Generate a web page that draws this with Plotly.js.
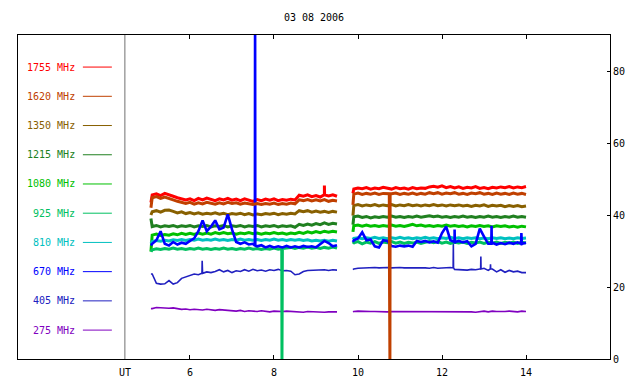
<!DOCTYPE html>
<html><head><meta charset="utf-8">
<script src="https://cdn.plot.ly/plotly-3.0.1.min.js"></script>
<style>html,body{margin:0;padding:0;background:#fff}#chart{width:640px;height:384px}</style>
</head><body><div id="chart"></div>
<script>
const chartTitle = "03 08 2006";
const freqLabels = ["1755 MHz","1620 MHz","1350 MHz","1215 MHz","1080 MHz","925 MHz","810 MHz","670 MHz","405 MHz","275 MHz"];
const freqColors = ["#ff0000","#c04000","#886000","#208020","#00c000","#00c060","#00c0c0","#0000ff","#2020c0","#8000c0"];
const xTickVals = [6,8,10,12,14];
const yTickVals = [0,20,40,60,80];
const utMarker = 4.45;

const timesLeft = [5.1,5.2,5.3,5.4,5.5,5.6,5.7,5.8,5.9,6.0,6.1,6.2,6.3,6.4,6.5,6.6,6.7,6.8,6.9,7.0,7.1,7.2,7.3,7.4,7.5,7.6,7.7,7.8,7.9,8.0,8.1,8.2,8.3,8.4,8.5,8.6,8.7,8.8,8.9,9.0,9.1,9.2,9.3,9.4,9.5];
const timesRight = [9.9,10.0,10.1,10.2,10.3,10.4,10.5,10.6,10.7,10.8,10.9,11.0,11.1,11.2,11.3,11.4,11.5,11.6,11.7,11.8,11.9,12.0,12.1,12.2,12.3,12.4,12.5,12.6,12.7,12.8,12.9,13.0,13.1,13.2,13.3,13.4,13.5,13.6,13.7,13.8,13.9,14.0];

// first samples of each segment (reading at 5.07 and 9.88 UT)
const startTimes = [5.07, 9.88];

const v1755L = [45.6,45.9,45.4,46.0,45.5,45.2,44.8,44.6,44.2,44.5,44.0,44.6,44.2,44.7,44.3,44.0,44.5,44.2,44.6,44.1,44.4,44.0,44.5,44.2,43.8,44.3,44.0,44.4,44.1,44.5,44.0,44.3,44.1,44.4,44.2,45.5,45.2,45.6,45.1,45.4,45.0,46.0,45.3,45.6,45.2];
const v1755R = [47.2,47.5,47.3,47.6,47.2,47.5,47.3,47.7,47.4,47.2,47.6,47.3,47.5,47.2,47.6,47.3,47.5,47.4,47.8,48.0,47.7,48.1,47.6,47.9,47.5,47.8,47.4,47.7,47.5,47.9,47.4,47.6,47.3,47.7,47.5,47.8,47.6,47.9,47.5,47.8,47.6,47.9];
const v1755S = [43.5, 46.0];
const s1755T = [9.195,9.2,9.205], s1755V = [45.6,48.2,45.6];

const v1620L = [44.8,45.1,44.6,45.0,44.5,44.2,43.8,43.5,43.2,43.5,43.0,43.4,43.1,43.5,43.2,43.0,43.4,43.1,43.5,43.2,43.4,43.0,43.3,43.1,42.9,43.2,42.9,43.2,43.0,43.3,42.9,43.2,43.0,43.3,43.1,44.2,44.0,44.3,43.9,44.2,43.9,44.3,43.8,44.1,43.9];
const v1620R = [45.8,46.1,45.7,46.0,45.8,46.1,45.7,46.0,45.8,45.9,46.1,45.7,46.0,45.8,46.1,45.7,46.0,45.8,46.2,45.9,46.2,45.8,46.1,45.9,46.2,45.8,46.0,45.7,46.1,45.9,46.2,45.8,46.0,45.7,46.1,45.8,46.0,45.7,46.1,45.8,46.0,45.7];
const v1620S = [42.0, 42.8];
const s1620T = [10.745,10.75,10.755,10.76,10.765], s1620V = [45.9,22.5,45.9,0,45.9];

const v1350L = [40.9,41.2,40.8,41.3,41.4,41.0,40.6,40.9,40.4,40.7,40.3,40.6,40.2,40.5,40.3,40.6,40.2,40.5,40.1,40.4,40.2,40.5,40.1,40.4,40.0,40.3,40.1,40.4,40.2,40.5,40.1,40.4,40.2,40.5,40.3,41.2,40.9,41.2,40.8,41.1,40.8,41.0,40.7,41.0,40.8];
const v1350R = [42.6,42.9,42.5,42.8,42.6,42.9,42.5,42.8,42.6,42.9,42.5,42.8,42.6,42.9,42.6,42.8,42.5,42.8,42.6,42.9,42.6,42.8,42.5,42.8,42.6,42.8,42.5,42.7,42.4,42.7,42.5,42.8,42.4,42.7,42.5,42.7,42.3,42.6,42.4,42.6,42.3,42.5];
const v1350S = [40.0, 39.8];

const v1215L = [36.8,37.1,36.7,37.0,36.8,37.1,36.7,37.0,36.8,37.1,36.7,37.0,36.8,37.1,36.7,37.0,36.8,37.1,36.7,37.0,36.8,37.1,36.7,37.0,36.8,37.1,36.7,37.0,36.8,37.1,36.7,37.0,36.8,37.0,36.6,37.4,37.1,37.5,37.2,37.6,37.3,37.8,37.4,37.7,37.5];
const v1215R = [39.5,39.7,39.3,39.6,39.2,39.5,39.3,39.6,39.4,39.7,39.4,39.6,39.3,39.6,39.4,39.7,39.4,39.6,39.8,39.5,39.7,39.4,39.6,39.3,39.6,39.4,39.7,39.4,39.6,39.3,39.6,39.4,39.7,39.4,39.6,39.3,39.6,39.4,39.7,39.4,39.6,39.4];
const v1215S = [39.0, 37.3];

const v1080L = [34.4,34.7,34.3,34.6,34.4,34.8,34.5,34.9,34.6,34.9,34.6,35.0,34.7,35.0,34.7,35.1,34.8,35.1,34.8,35.0,34.7,35.0,34.8,35.1,34.8,35.0,34.7,35.0,34.8,35.1,34.8,35.0,34.7,35.0,34.8,35.2,34.9,35.3,35.0,35.4,35.1,35.5,35.2,35.5,35.3];
const v1080R = [37.0,37.2,36.9,37.2,36.9,37.1,36.8,37.1,36.9,37.2,36.9,37.1,36.8,37.1,37.4,37.0,37.2,36.9,37.1,36.8,37.1,36.9,37.2,36.9,37.1,36.8,37.0,36.7,37.0,36.8,37.1,36.8,37.0,36.7,37.0,36.8,37.0,36.7,36.9,36.6,36.9,36.7];
const v1080S = [29.8, 35.3];

const v925L = [30.3,30.6,30.4,30.7,30.5,30.8,30.5,30.7,30.4,30.7,30.5,30.8,30.5,30.7,30.4,30.7,30.5,30.8,30.5,30.7,30.4,30.7,30.5,30.8,30.5,30.7,30.4,30.7,30.5,30.8,30.5,30.7,30.8,31.0,30.7,31.0,30.8,31.1,30.8,31.0,30.7,31.0,30.8,31.1,30.8];
const v925R = [32.3,32.6,32.0,32.5,32.2,32.6,32.1,32.5,32.3,32.6,32.2,32.5,32.1,32.4,32.2,32.5,32.1,32.4,32.6,32.3,32.6,32.2,32.5,32.1,32.4,32.2,32.5,32.1,32.4,32.2,32.5,32.1,32.4,32.2,32.5,32.1,32.4,32.2,32.5,32.1,32.4,32.2];
const v925S = [29.8, 32.0];
const s925T = [8.185,8.19,8.195], s925V = [30.7,0,30.7];

const v810L = [32.6,32.9,32.7,33.0,32.8,33.1,32.9,33.2,32.9,33.2,33.0,33.3,33.0,33.2,33.0,33.3,33.0,33.2,32.9,33.2,33.0,33.3,33.0,33.2,33.0,33.2,32.9,33.2,33.0,33.3,33.0,33.2,32.9,33.2,33.0,33.2,32.9,33.1,32.8,33.0,32.8,33.0,32.7,33.0,32.8];
const v810R = [33.5,33.7,33.4,33.7,33.5,33.8,33.5,33.7,33.4,33.7,33.5,33.8,33.5,33.7,33.4,33.7,33.5,33.8,33.5,33.7,33.4,33.7,33.5,33.8,33.5,33.7,33.4,33.7,33.5,33.7,33.4,33.6,33.4,33.7,33.5,33.7,33.4,33.6,33.4,33.7,33.5,33.6];
const v810S = [32.0, 33.2];

const v670L = [32.0,33.0,35.5,32.0,31.5,32.5,31.8,32.3,32.0,32.8,33.5,35.5,38.5,35.5,36.8,38.5,36.0,36.5,40.2,36.0,32.5,32.0,32.4,31.8,32.0,31.3,31.6,31.0,31.4,31.0,31.3,31.0,31.4,31.0,31.3,31.0,31.4,31.1,31.3,31.0,32.0,32.8,32.2,31.3,31.6];
const v670R = [33.0,33.5,35.2,33.0,33.2,31.3,31.0,33.0,32.8,31.4,31.2,31.5,31.3,31.5,31.2,32.8,32.5,32.8,32.4,32.7,32.3,35.0,36.8,33.0,32.5,32.8,32.4,32.7,31.3,32.0,36.2,34.0,32.0,32.3,31.8,32.2,31.9,32.3,32.0,32.4,32.0,32.3];
const v670S = [31.5, 32.5];
const s670T = [7.545,7.55,7.555,12.295,12.3,12.305,13.175,13.18,13.185,13.885,13.89,13.895];
const s670V = [31.5,100,31.5,32.5,36.0,32.5,32.0,37.0,32.0,32.0,35.0,32.0];

const v405L = [23.6,21.0,20.8,20.9,21.8,20.8,21.2,22.4,22.8,23.2,23.6,23.4,23.8,24.2,24.0,24.3,24.8,24.2,24.6,24.0,24.5,24.3,24.8,24.4,24.9,24.5,24.7,24.4,24.8,24.6,24.9,24.5,24.6,24.4,23.4,23.6,24.3,24.6,24.7,24.8,24.7,24.8,24.6,24.8,24.7];
const v405R = [25.0,25.2,25.3,25.4,25.3,25.4,25.3,25.4,25.4,25.3,25.4,25.4,25.3,25.4,25.3,25.3,25.4,25.3,25.2,25.4,25.2,25.3,25.2,25.4,24.9,24.8,24.9,24.7,24.9,24.8,25.0,25.2,24.6,25.0,24.2,24.8,24.1,24.6,24.2,24.4,24.0,24.0];
const v405S = [23.6, 24.8];
const s405T = [6.285,6.29,6.295,12.265,12.27,12.275,12.92,12.925,12.93,13.15,13.155,13.16];
const s405V = [23.8,27.3,23.8,25.3,32.0,25.3,25.0,28.5,25.0,25.0,26.3,25.0];

const v275L = [14.0,14.3,14.2,14.3,14.1,14.2,13.9,13.8,13.9,13.7,13.8,13.7,13.6,13.8,13.7,13.5,13.7,13.6,13.5,13.6,13.3,13.5,13.2,13.4,13.3,13.2,13.4,13.3,13.1,13.3,13.2,13.2,13.3,13.2,13.3,13.1,13.0,13.2,13.1,13.2,13.1,13.0,13.1,13.1,13.1];
const v275R = [13.2,13.3,13.2,13.1,13.2,13.2,13.1,13.2,13.1,13.2,13.2,13.1,13.2,13.2,13.1,13.2,13.2,13.1,13.2,13.2,13.1,13.2,13.3,13.2,13.1,13.2,13.2,13.3,13.1,13.0,13.2,13.3,13.1,13.3,13.2,13.1,13.2,13.3,13.2,13.1,13.3,13.2];
const v275S = [14.0, 13.1];

function build(leftV, rightV, startV, spT, spV) {
  const pts = [];
  startTimes.forEach((t, i) => pts.push([t, startV[i]]));
  timesLeft.forEach((t, i) => pts.push([t, leftV[i]]));
  timesRight.forEach((t, i) => pts.push([t, rightV[i]]));
  (spT || []).forEach((t, i) => pts.push([t, spV[i]]));
  pts.sort((a, b) => a[0] - b[0]);
  const x = [], y = [];
  let prev = null;
  pts.forEach(p => {
    if (prev !== null && prev < 9.7 && p[0] > 9.7) { x.push(9.7); y.push(null); }
    x.push(p[0]); y.push(p[1]); prev = p[0];
  });
  return {x, y};
}

const series = {
  "1755": build(v1755L, v1755R, v1755S, s1755T, s1755V),
  "1620": build(v1620L, v1620R, v1620S, s1620T, s1620V),
  "1350": build(v1350L, v1350R, v1350S),
  "1215": build(v1215L, v1215R, v1215S),
  "1080": build(v1080L, v1080R, v1080S),
  "925": build(v925L, v925R, v925S, s925T, s925V),
  "810": build(v810L, v810R, v810S),
  "670": build(v670L, v670R, v670S, s670T, s670V),
  "405": build(v405L, v405R, v405S, s405T, s405V),
  "275": build(v275L, v275R, v275S)
};
const keyIndex = {"1755":0,"1620":1,"1350":2,"1215":3,"1080":4,"925":5,"810":6,"670":7,"405":8,"275":9};
const drawOrder = ["275","405","1755","1350","1215","1080","925","810","670","1620"];
const widths = {"275":1.6,"405":1.6,"670":2.6};

const traces = drawOrder.map(k => ({
  type: "scatter", mode: "lines", x: series[k].x, y: series[k].y,
  connectgaps: false, line: {color: freqColors[keyIndex[k]], width: widths[k] || 3},
  hoverinfo: "skip", showlegend: false
}));

const FONT = "DejaVu Sans Mono, monospace";
const annotations = [];
const shapes = [];
freqLabels.forEach((lab, i) => {
  const yp = 0.901 - i * 0.0902;
  annotations.push({xref: "x", yref: "paper", x: 3.31, y: yp, xanchor: "right", yanchor: "middle",
    text: lab, showarrow: false, font: {family: FONT, size: 10, color: freqColors[i]}});
  shapes.push({type: "line", xref: "x", yref: "paper", x0: 3.45, x1: 4.14, y0: yp, y1: yp,
    line: {color: freqColors[i], width: 1}});
});
shapes.push({type: "line", xref: "x", yref: "paper", x0: utMarker, x1: utMarker, y0: 0, y1: 1,
  line: {color: "#707070", width: 1}, layer: "below"});
annotations.push({xref: "x", yref: "paper", x: utMarker, y: 0, yshift: -13, yanchor: "middle",
  text: "UT", showarrow: false, font: {family: FONT, size: 10, color: "#000"}});

const layout = {
  width: 640, height: 384,
  margin: {l: 18, r: 30, t: 35, b: 25},
  paper_bgcolor: "#fff", plot_bgcolor: "#fff",
  title: {text: chartTitle, font: {family: FONT, size: 10, color: "#000"},
    x: 0.5, xref: "paper", y: 1 - 17/384, yref: "container", yanchor: "middle"},
  xaxis: {range: [1.905, 16.0], tickvals: xTickVals, ticktext: xTickVals.map(String),
    ticks: "inside", ticklen: 4, tickcolor: "#000", showline: true, linecolor: "#000", linewidth: 1,
    mirror: "ticks", showgrid: false, zeroline: false, ticklabelstandoff: 4,
    tickfont: {family: FONT, size: 10, color: "#000"}},
  yaxis: {range: [0, 90], side: "right", tickvals: yTickVals, ticks: "inside", ticklen: 3,
    tickcolor: "#000", showline: true, linecolor: "#000", linewidth: 1, mirror: true,
    showgrid: false, zeroline: false, tickfont: {family: FONT, size: 10, color: "#000"}},
  annotations, shapes
};
Plotly.newPlot("chart", traces, layout, {staticPlot: true, displayModeBar: false});
</script></body></html>
